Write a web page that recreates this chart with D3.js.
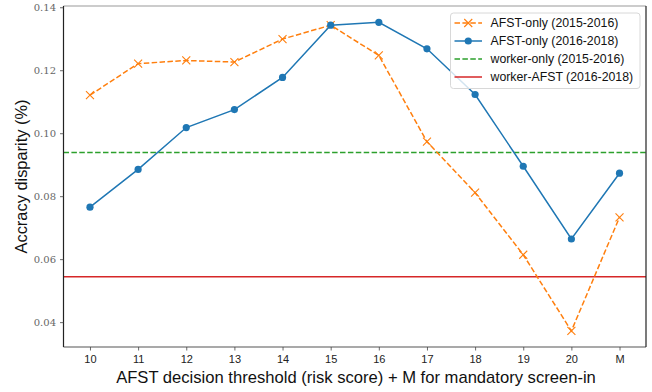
<!DOCTYPE html>
<html>
<head>
<meta charset="utf-8">
<script src="https://cdn.jsdelivr.net/npm/d3@7"></script>
<style>
  body { margin: 0; background: #fff; }
  svg { display: block; }
</style>
</head>
<body>
<svg id="chart" width="652" height="392"></svg>
<script>
// Thresholds on the x axis (M = mandatory screen-in)
const thresholds = ["10", "11", "12", "13", "14", "15", "16", "17", "18", "19", "20", "M"];

// Accuracy disparity per threshold
const afstOnly1516 = [0.1121, 0.1221, 0.1231, 0.1226, 0.1299, 0.1343, 0.1247, 0.0973, 0.0811, 0.0614, 0.0372, 0.0733];
const afstOnly1618 = [0.0765, 0.0885, 0.1018, 0.1075, 0.1177, 0.1343, 0.1352, 0.1268, 0.1123, 0.0895, 0.0664, 0.0873];

// Reference levels (constant across thresholds)
const workerOnly1516 = 0.0939;
const workerAfst1618 = 0.0544;

const yTicks = [0.04, 0.06, 0.08, 0.10, 0.12, 0.14];

const seriesNames = ["AFST-only (2015-2016)", "AFST-only (2016-2018)", "worker-only (2015-2016)", "worker-AFST (2016-2018)"];

const C_ORANGE = "#ff7f0e", C_BLUE = "#1f77b4", C_GREEN = "#2ca02c", C_RED = "#d62728";
const SANS = "'Liberation Sans', Arial, Helvetica, sans-serif";

const svg = d3.select("#chart");
const m = { left: 63.5, right: 646, top: 6, bottom: 347 };

const x = d3.scaleLinear().domain([-0.55, 11.55]).range([m.left, m.right]);
const y = d3.scaleLinear().domain([0.0321, 0.1404]).range([m.bottom, m.top]);

const g = svg.append("g");

// clip to axes area
svg.append("defs").append("clipPath").attr("id", "clip")
  .append("rect").attr("x", m.left).attr("y", m.top)
  .attr("width", m.right - m.left).attr("height", m.bottom - m.top);

const plot = g.append("g").attr("clip-path", "url(#clip)");

// horizontal reference lines
plot.append("line")
  .attr("x1", m.left).attr("x2", m.right)
  .attr("y1", y(workerOnly1516)).attr("y2", y(workerOnly1516))
  .attr("stroke", C_GREEN).attr("stroke-width", 1.5).attr("stroke-dasharray", "5.5,2.4");
plot.append("line")
  .attr("x1", m.left).attr("x2", m.right)
  .attr("y1", y(workerAfst1618)).attr("y2", y(workerAfst1618))
  .attr("stroke", C_RED).attr("stroke-width", 1.5);

const line = d3.line().x((d, i) => x(i)).y(d => y(d));

// AFST-only 2015-2016 (dashed, x markers)
plot.append("path").datum(afstOnly1516)
  .attr("d", line).attr("fill", "none")
  .attr("stroke", C_ORANGE).attr("stroke-width", 1.5).attr("stroke-dasharray", "5.5,2.4");
const xm = 4;
plot.append("g").selectAll("path").data(afstOnly1516).join("path")
  .attr("d", (d, i) => {
    const cx = x(i), cy = y(d);
    return `M${cx - xm},${cy - xm}L${cx + xm},${cy + xm}M${cx - xm},${cy + xm}L${cx + xm},${cy - xm}`;
  })
  .attr("stroke", C_ORANGE).attr("stroke-width", 1.1).attr("fill", "none");

// AFST-only 2016-2018 (solid, dot markers)
plot.append("path").datum(afstOnly1618)
  .attr("d", line).attr("fill", "none")
  .attr("stroke", C_BLUE).attr("stroke-width", 1.5);
plot.append("g").selectAll("circle").data(afstOnly1618).join("circle")
  .attr("cx", (d, i) => x(i)).attr("cy", d => y(d)).attr("r", 3.6)
  .attr("fill", C_BLUE);

// spines
g.append("line").attr("x1", m.left).attr("x2", m.right).attr("y1", m.top).attr("y2", m.top)
  .attr("stroke", "#999").attr("stroke-width", 1.2);
g.append("line").attr("x1", m.left).attr("x2", m.right).attr("y1", m.bottom).attr("y2", m.bottom)
  .attr("stroke", "#555").attr("stroke-width", 1.2);
g.append("line").attr("x1", m.left).attr("x2", m.left).attr("y1", m.top).attr("y2", m.bottom)
  .attr("stroke", "#222").attr("stroke-width", 1.2);
g.append("line").attr("x1", m.right).attr("x2", m.right).attr("y1", m.top).attr("y2", m.bottom)
  .attr("stroke", "#222").attr("stroke-width", 1.2);

// x axis
const xAxis = d3.axisBottom(x)
  .tickValues(d3.range(thresholds.length))
  .tickFormat(i => thresholds[i])
  .tickSize(3.5).tickPadding(5);
const gx = g.append("g").attr("transform", `translate(0,${m.bottom})`).call(xAxis);
gx.select(".domain").remove();
gx.selectAll(".tick line").attr("stroke", "#444").attr("stroke-width", 0.8);
gx.selectAll(".tick text")
  .attr("font-family", SANS)
  .attr("font-size", 11).attr("fill", "#222");

// y axis
const yAxis = d3.axisLeft(y)
  .tickValues(yTicks)
  .tickFormat(d3.format(".2f"))
  .tickSize(3.5).tickPadding(4);
const gy = g.append("g").attr("transform", `translate(${m.left},0)`).call(yAxis);
gy.select(".domain").remove();
gy.selectAll(".tick line").attr("stroke", "#444").attr("stroke-width", 0.8);
gy.selectAll(".tick text")
  .attr("font-family", "'DejaVu Serif', 'Liberation Serif', serif")
  .attr("font-size", 10).attr("fill", "#666");

// axis labels
g.append("text")
  .attr("x", 356).attr("y", 382.5)
  .attr("text-anchor", "middle")
  .attr("font-family", SANS)
  .attr("font-size", 16.6).attr("fill", "#111")
  .text("AFST decision threshold (risk score) + M for mandatory screen-in");

g.append("text")
  .attr("transform", `translate(27,${(m.top + m.bottom) / 2}) rotate(-90)`)
  .attr("text-anchor", "middle")
  .attr("font-family", SANS)
  .attr("font-size", 16.4).attr("fill", "#111")
  .text("Accracy disparity (%)");

// legend
const lg = g.append("g");
lg.append("rect")
  .attr("x", 450.5).attr("y", 13).attr("width", 189.5).attr("height", 75.5)
  .attr("rx", 3).attr("fill", "#fff").attr("fill-opacity", 0.8)
  .attr("stroke", "#d8d8d8").attr("stroke-width", 1);

const legendItems = [
  { name: seriesNames[0], color: C_ORANGE, dash: "5.5,2.4", marker: "x" },
  { name: seriesNames[1], color: C_BLUE, dash: null, marker: "o" },
  { name: seriesNames[2], color: C_GREEN, dash: "5.5,2.4", marker: null },
  { name: seriesNames[3], color: C_RED, dash: null, marker: null }
];
const ly0 = 23, ldy = 18, lx1 = 454.5, lx2 = 482;
legendItems.forEach((it, k) => {
  const yy = ly0 + k * ldy;
  lg.append("line").attr("x1", lx1).attr("x2", lx2).attr("y1", yy).attr("y2", yy)
    .attr("stroke", it.color).attr("stroke-width", 1.5)
    .attr("stroke-dasharray", it.dash);
  const cx = (lx1 + lx2) / 2;
  if (it.marker === "x") {
    lg.append("path")
      .attr("d", `M${cx - xm},${yy - xm}L${cx + xm},${yy + xm}M${cx - xm},${yy + xm}L${cx + xm},${yy - xm}`)
      .attr("stroke", it.color).attr("stroke-width", 1.1);
  } else if (it.marker === "o") {
    lg.append("circle").attr("cx", cx).attr("cy", yy).attr("r", 3.6).attr("fill", it.color);
  }
  lg.append("text")
    .attr("x", 490.5).attr("y", yy + 4.4)
    .attr("font-family", SANS)
    .attr("font-size", 12.3).attr("fill", "#111")
    .text(it.name);
});
</script>
</body>
</html>
